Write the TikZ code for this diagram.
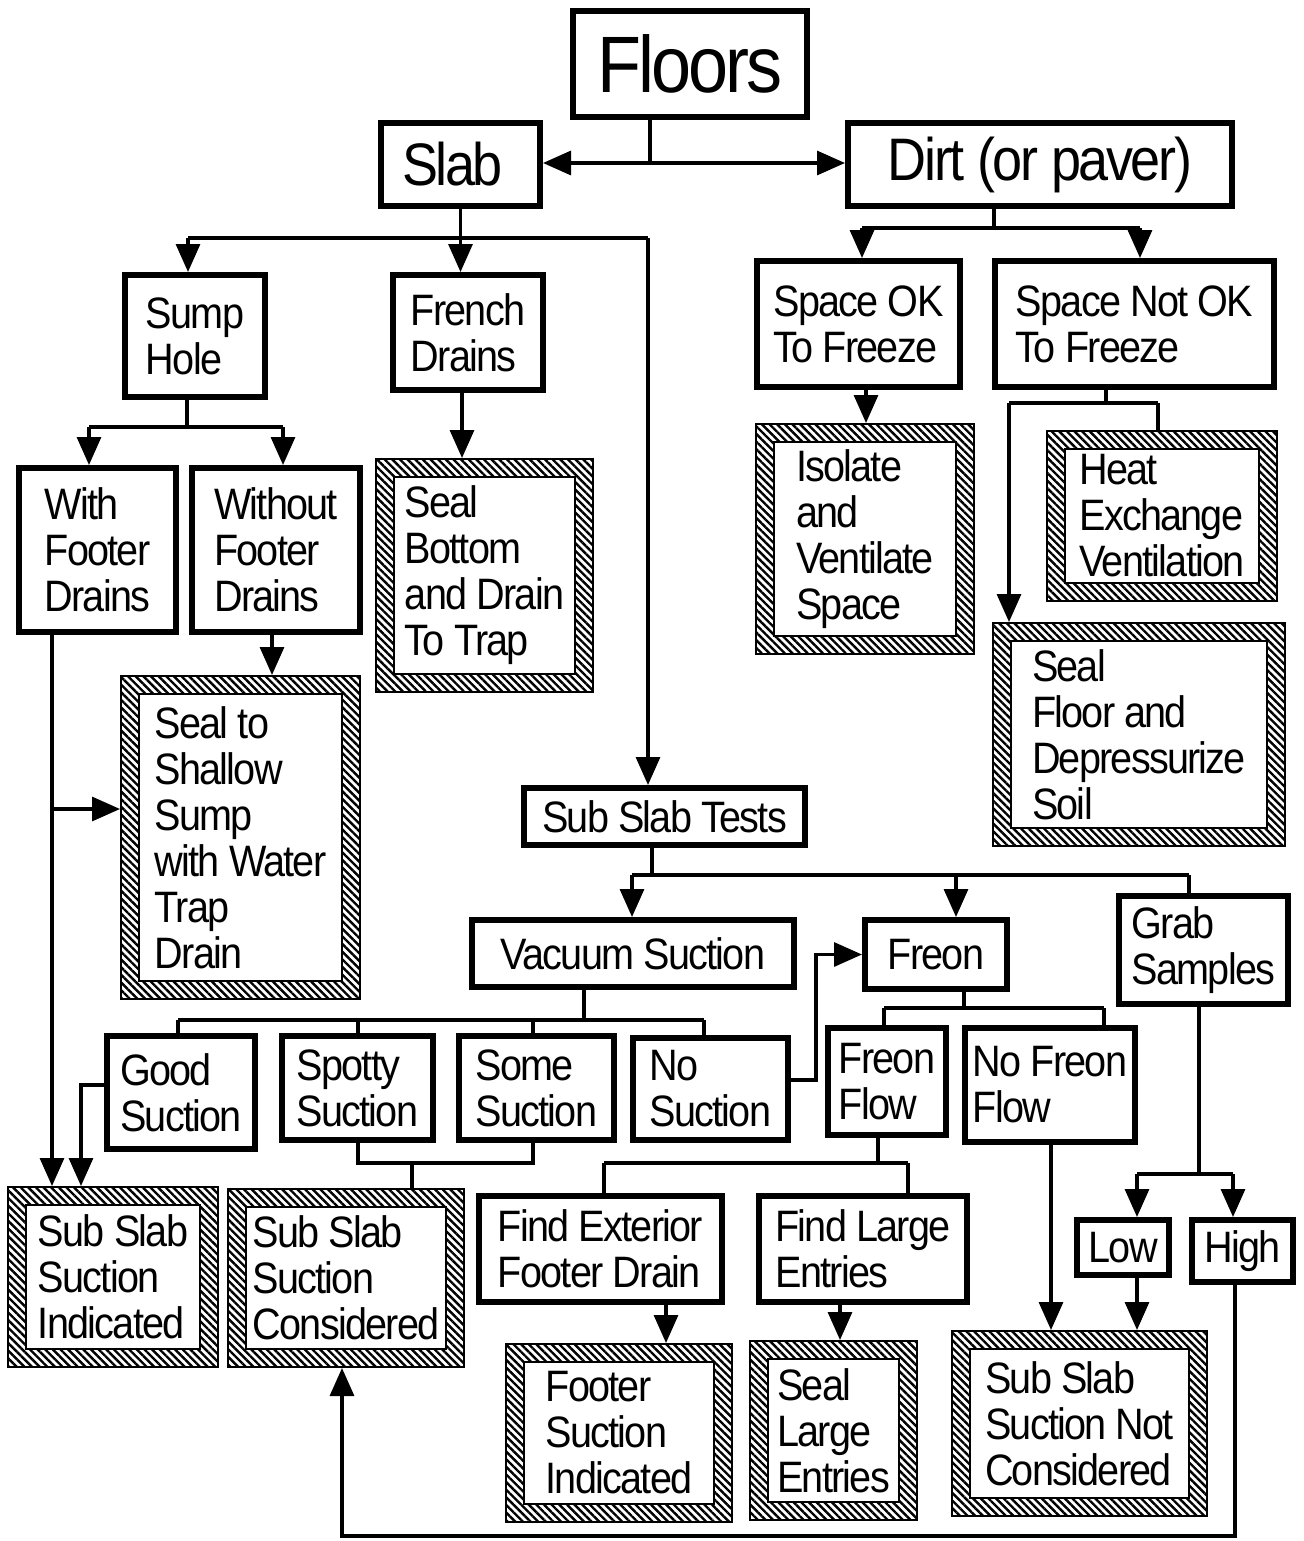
\documentclass[tikz,border=0pt]{standalone}
\usepackage{fontspec}
\setmainfont{Liberation Sans}[FakeStretch=0.9,LetterSpace=-4]
\usetikzlibrary{arrows.meta,patterns.meta,calc}
\newcommand\myboxfont{\fontsize{22pt}{23pt}\selectfont}
\newcommand\drawbox[7][tbox]{%
 \pgfmathsetmacro\bw{(#5-#3)*0.5-3.2}%
 \pgfmathsetmacro\bh{(#6-#4)*0.5-3.2}%
 \node[#1, minimum width=\bw pt, minimum height=\bh pt] (#2) at ({(#3+#5)/2},{(#4+#6)/2}) {#7};}
\newcommand\drawhbox[6]{%
 \pgfmathsetmacro\bw{(#4-#2)*0.5-0.8}%
 \pgfmathsetmacro\bh{(#5-#3)*0.5-0.8}%
 \node[hbox, minimum width=\bw pt, minimum height=\bh pt] (#1) at ({(#2+#4)/2},{(#3+#5)/2}) {#6};}
\tikzset{
 tbox/.style={rectangle, draw, line width=3.2pt, inner sep=0pt, align=left, font=\myboxfont},
 hbox/.style={rectangle, draw, line width=0.8pt, inner sep=0pt, align=left, font=\myboxfont,
  path picture={
   \fill[draw=none,pattern={Lines[angle=-45,distance=2.7pt,line width=1.2pt]},even odd rule]
    (path picture bounding box.south west) rectangle (path picture bounding box.north east)
    ([xshift=9pt,yshift=9pt]path picture bounding box.south west) rectangle ([xshift=-9pt,yshift=-9pt]path picture bounding box.north east);
   \draw[line width=0.8pt] ([xshift=9pt,yshift=9pt]path picture bounding box.south west) rectangle ([xshift=-9pt,yshift=-9pt]path picture bounding box.north east);
  }},
 ln/.style={line width=1.6pt, line join=miter},
 arr/.style={ln, -{Triangle[length=14pt,width=12pt]}}
}
\begin{document}
\begin{tikzpicture}[x=0.5pt,y=-0.5pt]
\useasboundingbox (0,0) rectangle (1303,1541);
% thick boxes
\drawbox[tbox,font=\fontsize{40pt}{42pt}\selectfont]{floors}{570}{8}{810}{120}{Floors}
\drawbox[tbox,font=\fontsize{30pt}{32pt}\selectfont]{slab}{378}{120}{543}{209}{Slab\hspace{8pt}}
\drawbox[tbox,font=\fontsize{30pt}{32pt}\selectfont]{dirt}{845}{120}{1235}{209}{Dirt (or paver)}
\drawbox{sump}{122}{272}{268}{400}{Sump\\Hole}
\drawbox{french}{390}{272}{546}{393}{French\\Drains}
\drawbox{withfd}{16}{465}{179}{635}{With\\Footer\\Drains}
\drawbox{withoutfd}{189}{465}{363}{635}{Without\\Footer\\Drains}
\drawbox{spaceok}{754}{258}{963}{390}{Space OK\\To Freeze}
\drawbox{spacenot}{992}{258}{1277}{390}{Space Not OK\\To Freeze}
\drawbox{subtests}{521}{785}{808}{848}{Sub Slab Tests}
\drawbox{vacuum}{469}{917}{797}{990}{Vacuum Suction}
\drawbox{freon}{862}{917}{1010}{992}{Freon}
\drawbox{grab}{1116}{893}{1291}{1007}{Grab\\Samples}
\drawbox{good}{104}{1033}{258}{1152}{Good\\Suction}
\drawbox{spotty}{279}{1033}{436}{1143}{Spotty\\Suction}
\drawbox{some}{456}{1033}{617}{1143}{Some\\Suction}
\drawbox{nosuction}{630}{1035}{791}{1143}{No\\Suction}
\drawbox{freonflow}{825}{1025}{949}{1138}{Freon\\Flow}
\drawbox{nofreon}{962}{1025}{1138}{1145}{No Freon\\Flow}
\drawbox{findext}{476}{1193}{725}{1305}{Find Exterior\\Footer Drain}
\drawbox{findlarge}{756}{1193}{970}{1305}{Find Large\\Entries}
\drawbox{low}{1074}{1217}{1172}{1278}{Low}
\drawbox{high}{1189}{1217}{1296}{1285}{High}
% hatched boxes
\drawhbox{sealbottom}{375}{458}{594}{693}{Seal\\Bottom\\and Drain\\To Trap}
\drawhbox{sealshallow}{120}{675}{361}{1000}{Seal to\\Shallow\\Sump\\with Water\\Trap\\Drain}
\drawhbox{isolate}{755}{423}{975}{655}{Isolate\\and\\Ventilate\\Space}
\drawhbox{heat}{1046}{430}{1278}{602}{Heat\\Exchange\\Ventilation}
\drawhbox{sealfloor}{992}{622}{1286}{847}{Seal\\Floor and\\Depressurize\\Soil}
\drawhbox{ssi}{7}{1186}{219}{1368}{Sub Slab\\Suction\\Indicated}
\drawhbox{ssc}{227}{1188}{465}{1368}{Sub Slab\\Suction\\Considered}
\drawhbox{footer}{505}{1343}{733}{1523}{Footer\\Suction\\Indicated}
\drawhbox{seallarge}{749}{1340}{918}{1521}{Seal\\Large\\Entries}
\drawhbox{ssnc}{951}{1330}{1208}{1517}{Sub Slab\\Suction Not\\Considered}
% connectors: floors
\coordinate (fj) at (650,163);
\draw[ln] (floors.south -| fj) -- (fj);
\draw[arr] (fj) -- (fj -| slab.east);
\draw[arr] (fj) -- (fj -| dirt.west);
% slab
\coordinate (sjl) at (188,238);
\coordinate (sjr) at (648,238);
\draw[ln] (slab.south) -- (slab.south |- sjl);
\draw[ln] (sjl) -- (sjr);
\draw[arr] (sjl) -- (sjl |- sump.north);
\draw[arr] (slab.south |- sjl) -- (slab.south |- french.north);
\draw[arr] (sjr) -- (sjr |- subtests.north);
% sump
\coordinate (hjl) at (89,427);
\coordinate (hjr) at (283,427);
\draw[ln] (sump.south -| 187,0) -- (187,427);
\draw[ln] (hjl) -- (hjr);
\draw[arr] (hjl) -- (hjl |- withfd.north);
\draw[arr] (hjr) -- (hjr |- withoutfd.north);
\draw[arr] (french.south -| 462,0) -- (sealbottom.north -| 462,0);
\draw[arr] (withoutfd.south -| 272,0) -- (sealshallow.north -| 272,0);
\draw[arr] (withfd.south -| 52,0) -- (ssi.north -| 52,0);
\draw[arr] (52,809) -- (sealshallow.west |- 0,809);
% dirt
\coordinate (djl) at (862,228);
\coordinate (djr) at (1140,228);
\draw[ln] (dirt.south -| 994,0) -- (994,228);
\draw[ln] (djl) -- (djr);
\draw[arr] (djl) -- (djl |- spaceok.north);
\draw[arr] (djr) -- (djr |- spacenot.north);
\draw[arr] (spaceok.south -| 866,0) -- (isolate.north -| 866,0);
\coordinate (njl) at (1009,403);
\coordinate (njr) at (1158,403);
\draw[ln] (spacenot.south -| 1106,0) -- (1106,403);
\draw[ln] (njl) -- (njr);
\draw[ln] (njr) -- (njr |- heat.north);
\draw[arr] (njl) -- (njl |- sealfloor.north);
% sub slab tests
\coordinate (tl) at (632,875);
\coordinate (tr) at (1189,875);
\draw[ln] (subtests.south -| 652,0) -- (652,875);
\draw[ln] (tl) -- (tr);
\draw[arr] (tl) -- (tl |- vacuum.north);
\draw[arr] (956,875) -- (freon.north -| 956,0);
\draw[ln] (tr) -- (tr |- grab.north);
% vacuum
\draw[ln] (vacuum.south -| 584,0) -- (584,1020);
\draw[ln] (178,1020) -- (704,1020);
\draw[ln] (178,1020) -- (good.north -| 178,0);
\draw[ln] (358,1020) -- (spotty.north -| 358,0);
\draw[ln] (533,1020) -- (some.north -| 533,0);
\draw[ln] (704,1020) -- (nosuction.north -| 704,0);
\draw[arr] (nosuction.east |- 0,1080) -- (816,1080) |- (freon.west);
% freon
\draw[ln] (freon.south -| 964,0) -- (964,1008);
\draw[ln] (884,1008) -- (1104,1008);
\draw[ln] (884,1008) -- (freonflow.north -| 884,0);
\draw[ln] (1104,1008) -- (nofreon.north -| 1104,0);
% good, spotty, some
\draw[arr] (good.west |- 0,1085) -| (ssi.north -| 81,0);
\draw[ln] (spotty.south -| 358,0) |- (533,1163) -- (some.south -| 533,0);
\draw[ln] (412,1163) -- (ssc.north -| 412,0);
% freon flow
\draw[ln] (freonflow.south -| 878,0) -- (878,1163);
\draw[ln] (604,1163) -- (908,1163);
\draw[ln] (604,1163) -- (findext.north -| 604,0);
\draw[ln] (908,1163) -- (findlarge.north -| 908,0);
\draw[arr] (findext.south -| 666,0) -- (footer.north -| 666,0);
\draw[arr] (findlarge.south -| 840,0) -- (seallarge.north -| 840,0);
\draw[arr] (nofreon.south -| 1051,0) -- (ssnc.north -| 1051,0);
% grab
\draw[ln] (grab.south -| 1199,0) -- (1199,1174);
\draw[ln] (1137,1174) -- (1233,1174);
\draw[arr] (1137,1174) -- (low.north -| 1137,0);
\draw[arr] (1233,1174) -- (high.north -| 1233,0);
\draw[arr] (low.south -| 1137,0) -- (ssnc.north -| 1137,0);
\draw[arr] (high.south -| 1235,0) -- (1235,1536) -| (ssc.south -| 342,0);
\end{tikzpicture}
\end{document}
